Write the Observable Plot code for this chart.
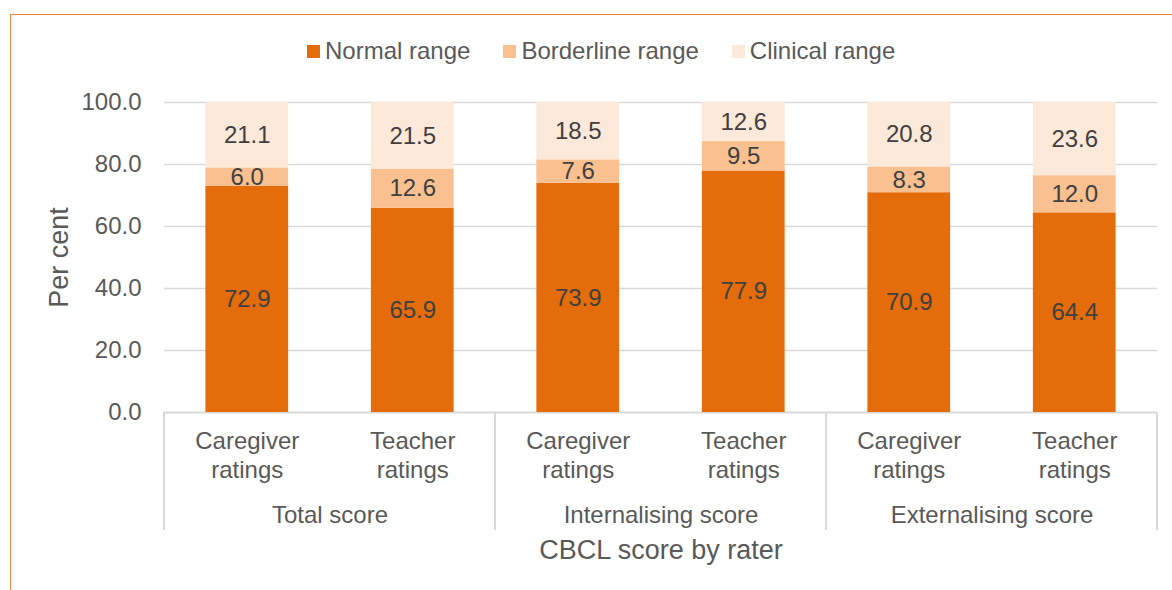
<!DOCTYPE html>
<html><head><meta charset="utf-8">
<script src="https://cdn.jsdelivr.net/npm/d3@7"></script>
<script src="https://cdn.jsdelivr.net/npm/@observablehq/plot@0.6"></script>
<style>
body{margin:0;background:#fff;overflow:hidden;width:1172px;height:590px;position:relative;font-family:"Liberation Sans",Arial,sans-serif;}
#border{position:absolute;left:10px;top:14px;width:1300px;height:700px;border-left:1.5px solid #E8873A;border-top:1.5px solid #E8873A;}
#legend{position:absolute;top:37px;left:307px;display:flex;align-items:center;font-size:24px;color:#595959;white-space:nowrap;}
.item{display:flex;align-items:center;margin-right:33px}
.sw{width:13px;height:13px;margin-right:5px}
#chart{position:absolute;left:0;top:0}
</style></head><body>
<div id="border"></div><div id="chart"></div><div id="legend"></div>
<script>
const groups = ["Total score", "Internalising score", "Externalising score"];
const raters = ["Caregiver ratings", "Teacher ratings"];
const ranges = ["Normal range", "Borderline range", "Clinical range"];
const colors = ["#E46C0A", "#FAC090", "#FDE9D9"];
const normal = [72.9, 65.9, 73.9, 77.9, 70.9, 64.4];
const borderline = [6.0, 12.6, 7.6, 9.5, 8.3, 12.0];
const clinical = [21.1, 21.5, 18.5, 12.6, 20.8, 23.6];
const yTicks = [0, 20, 40, 60, 80, 100];
const yTitle = "Per cent";
const xTitle = "CBCL score by rater";

const series = [normal, borderline, clinical];
const rows = [];
groups.forEach((g, gi) => raters.forEach((r, ri) => {
  const i = gi * 2 + ri;
  series.forEach((s, si) => rows.push({group: g, rater: r, range: ranges[si], value: s[i]}));
}));

const font = '"Liberation Sans", Arial, sans-serif';
const plot = Plot.plot({
  width: 1172, height: 590,
  marginLeft: 164, marginRight: 15, marginTop: 102, marginBottom: 178,
  style: {fontFamily: font, fontSize: "24px", color: "#595959", background: "transparent"},
  fx: {domain: groups, padding: 0, round: false},
  x: {domain: raters, paddingInner: 0.5, paddingOuter: 0.25, round: false},
  y: {domain: [0, 100]},
  color: {domain: ranges, range: colors},
  marks: [
    Plot.gridY({ticks: yTicks.slice(1), stroke: "#d9d9d9", strokeOpacity: 1, strokeWidth: 1.5}),
    Plot.ruleY([0], {stroke: "#d9d9d9", strokeWidth: 2}),
    Plot.barY(rows, Plot.stackY({fx: "group", x: "rater", y: "value", fill: "range", order: ranges})),
    Plot.text(rows, Plot.stackY({fx: "group", x: "rater", y: "value", z: "range", order: ranges,
      text: d => d.value.toFixed(1), fill: "#404040", fontSize: 24})),
    Plot.axisY({ticks: yTicks, tickFormat: d3.format(".1f"), tickSize: 0, tickPadding: 23, label: null, fontSize: 24}),
    Plot.axisY({ticks: [], label: yTitle, labelAnchor: "center", labelArrow: "none", labelOffset: 116, fontSize: 27}),
    Plot.axisX({tickSize: 0, tickPadding: 17, tickFormat: d => d.replace(" ", "\n"), lineHeight: 1.17, fontSize: 24, label: null}),
    Plot.axisFx({anchor: "bottom", tickSize: 0, tickPadding: 93, label: null, fontSize: 24}),
    Plot.axisFx({anchor: "bottom", ticks: [], label: xTitle, labelAnchor: "center", labelArrow: "none", labelOffset: 146, fontSize: 27})
  ]
});
document.getElementById("chart").appendChild(plot);

// group divider lines using the plot's own scales
const fx = plot.scale("fx"), ys = plot.scale("y");
const y0 = ys.apply(0);
const edges = groups.map(g => fx.apply(g)).concat([fx.apply(groups[groups.length - 1]) + fx.bandwidth]);
d3.select(plot).append("g").selectAll("line").data(edges).join("line")
  .attr("x1", d => d).attr("x2", d => d).attr("y1", y0).attr("y2", y0 + 118)
  .attr("stroke", "#d9d9d9").attr("stroke-width", 2);

// legend
const leg = d3.select("#legend");
ranges.forEach((r, i) => {
  const it = leg.append("div").attr("class", "item");
  it.append("div").attr("class", "sw").style("background", colors[i]);
  it.append("span").text(r);
});
</script></body></html>
